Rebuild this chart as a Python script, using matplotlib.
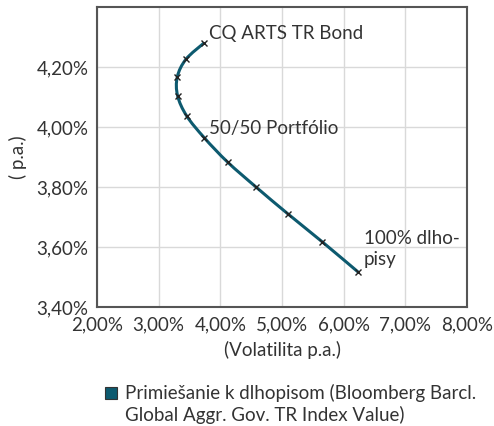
import numpy as np
import matplotlib.pyplot as plt
from matplotlib.path import Path
from matplotlib.patches import PathPatch, Rectangle
from matplotlib.ticker import FuncFormatter

plt.rcParams['font.family'] = ['Lato', 'DejaVu Sans']

# Data (volatility %, return %)
volatility = [3.735, 3.443, 3.302, 3.307, 3.454, 3.74, 4.118, 4.578, 5.092, 5.654, 6.232]
returns = [4.28, 4.226, 4.167, 4.104, 4.037, 3.964, 3.883, 3.80, 3.711, 3.617, 3.517]
point_labels = ["CQ ARTS TR Bond", "50/50 Portfólio", "100% dlho-\npisy"]
legend_label = "Primiešanie k dlhopisom (Bloomberg Barcl.\nGlobal Aggr. Gov. TR Index Value)"
line_color = '#0d5a6f'
fs = 13.5
W, H = 494, 426

fig = plt.figure(figsize=(W / 100, H / 100), dpi=100)
ax = fig.add_axes([97/W, 1 - 307/H, 370/W, 300/H])

# smooth curve through the points (Catmull-Rom -> cubic bezier)
x = np.array(volatility)
y = np.array(returns)
verts = [(x[0], y[0])]
codes = [Path.MOVETO]
for i in range(len(x) - 1):
    p0 = np.array([x[max(i - 1, 0)], y[max(i - 1, 0)]])
    p1 = np.array([x[i], y[i]])
    p2 = np.array([x[i + 1], y[i + 1]])
    p3 = np.array([x[min(i + 2, len(x) - 1)], y[min(i + 2, len(x) - 1)]])
    c1 = p1 + (p2 - p0) / 6
    c2 = p2 - (p3 - p1) / 6
    verts += [tuple(c1), tuple(c2), tuple(p2)]
    codes += [Path.CURVE4] * 3
ax.add_patch(PathPatch(Path(verts, codes), facecolor='none', edgecolor=line_color, lw=2.2, zorder=3))
ax.plot(volatility, returns, ls='none', marker='x', color='#222222', ms=4, mew=1, zorder=4)

ax.text(volatility[0] + 0.08, returns[0] + 0.03, point_labels[0], fontsize=fs, color='#333333', va='center')
ax.text(volatility[5] + 0.08, returns[5] + 0.03, point_labels[1], fontsize=fs, color='#333333', va='center')
ax.text(volatility[-1] + 0.09, returns[-1] + 0.012, point_labels[2], fontsize=fs, color='#333333', va='bottom', linespacing=1.3)

ax.set_xlim(2, 8)
ax.set_ylim(3.4, 4.4)
ax.set_xticks(np.arange(2, 8.01, 1))
ax.set_yticks([3.4, 3.6, 3.8, 4.0, 4.2])
ax.xaxis.set_major_formatter(FuncFormatter(lambda v, p: f"{v:.2f}%".replace('.', ',')))
ax.yaxis.set_major_formatter(FuncFormatter(lambda v, p: f"{v:.2f}%".replace('.', ',')))
ax.tick_params(length=0, labelsize=fs, colors='#333333')
ax.tick_params(axis='x', pad=7)
ax.tick_params(axis='y', pad=6)
ax.grid(True, color='#d9d9d9', lw=1)
ax.set_axisbelow(True)
for s in ax.spines.values():
    s.set_color('#555555')
    s.set_linewidth(1.5)

ax.set_xlabel("(Volatilita p.a.)", fontsize=fs, color='#333333', labelpad=5)
ax.set_ylabel("( p.a.)", fontsize=fs, color='#333333', labelpad=7)

# legend: square next to the first line of a two-line label
fig.patches.append(Rectangle((105/W, 1 - 399/H), 12/W, 12/H, transform=fig.transFigure,
                             facecolor=line_color, edgecolor='#333333', lw=0.8))
fig.text(125/W, 1 - 384/H, legend_label, fontsize=fs, color='#333333',
         va='top', ha='left', linespacing=1.27)

fig.savefig('out.png', dpi=100)
